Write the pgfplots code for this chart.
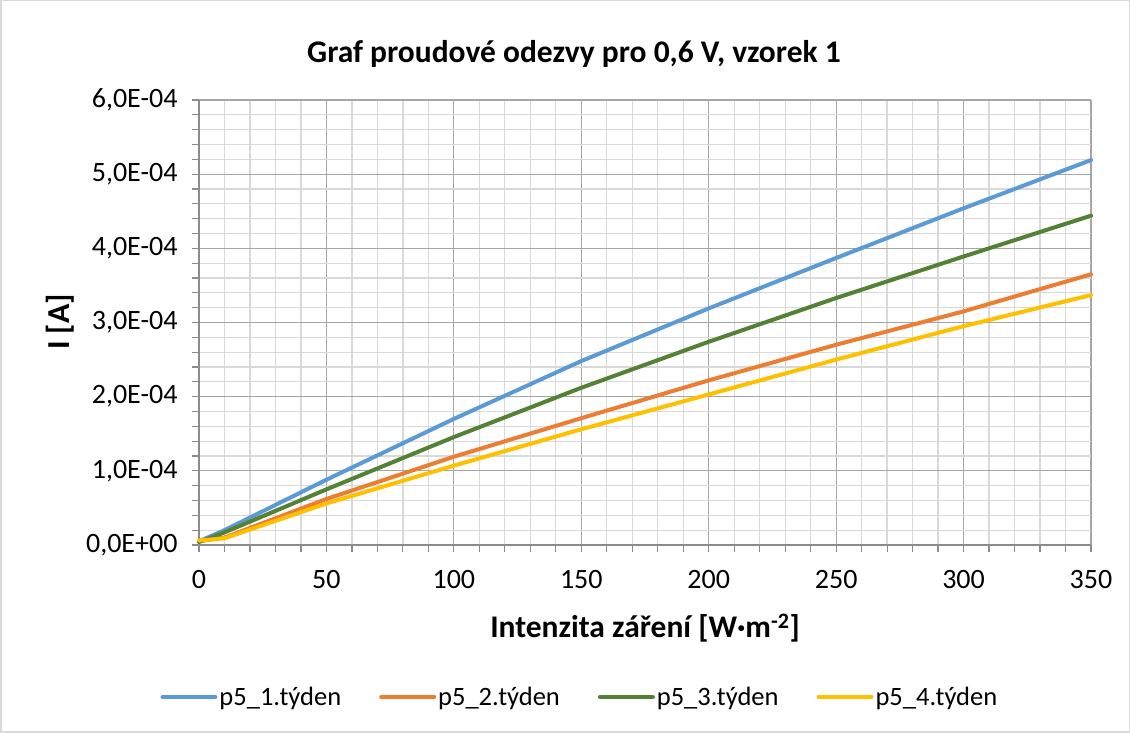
\documentclass[border=0pt]{standalone}
\usepackage{fontspec}
\setmainfont{Carlito}
\usepackage{pgfplots}
\usepackage{pgfplotstable}
\pgfplotsset{compat=1.18}

\definecolor{serA}{HTML}{5B9BD5}
\definecolor{serB}{HTML}{ED7D31}
\definecolor{serC}{HTML}{548235}
\definecolor{serD}{HTML}{FFC000}
\definecolor{majgrid}{HTML}{A6A6A6}
\definecolor{mingrid}{HTML}{D9D9D9}
\definecolor{axline}{HTML}{8C8C8C}

% current response, sample 1, at 0.6 V
\pgfplotstableread{
x    w1       w2       w3       w4
0    0.05e-4  0.05e-4  0.04e-4  0.06e-4
10   0.20e-4  0.10e-4  0.17e-4  0.09e-4
50   0.88e-4  0.62e-4  0.75e-4  0.56e-4
100  1.70e-4  1.19e-4  1.455e-4 1.07e-4
150  2.48e-4  1.71e-4  2.12e-4  1.56e-4
200  3.19e-4  2.22e-4  2.74e-4  2.03e-4
250  3.87e-4  2.70e-4  3.33e-4  2.50e-4
300  4.54e-4  3.15e-4  3.89e-4  2.95e-4
350  5.19e-4  3.65e-4  4.44e-4  3.37e-4
}\datatable

\begin{document}
\begin{tikzpicture}[x=1pt,y=1pt]
% chart area
\fill[white] (0,0) rectangle (1130,733);
\draw[mingrid,line width=1.5pt] (0.75,0.75) rectangle (1129.25,732.25);

\begin{axis}[
  at={(199pt,188pt)}, anchor=south west,
  scale only axis, width=892pt, height=445pt,
  xmin=0, xmax=350, ymin=0, ymax=6e-4,
  xtick={0,50,...,350},
  ytick={0,1e-4,2e-4,3e-4,4e-4,5e-4,6e-4},
  yticklabels={{0,0E+00},{1,0E-04},{2,0E-04},{3,0E-04},{4,0E-04},{5,0E-04},{6,0E-04}},
  scaled y ticks=false,
  minor x tick num=4, minor y tick num=4,
  grid=both,
  major grid style={majgrid, line width=1.2pt},
  minor grid style={mingrid, line width=1.3pt},
  axis lines=left,
  axis line style={-, axline, line width=1.3pt},
  tick align=outside,
  major tick length=7pt, minor tick length=7pt,
  tick style={axline, line width=1.2pt},
  xtick pos=bottom, ytick pos=left,
  tick label style={font=\fontsize{28}{32}\selectfont},
  /pgf/number format/assume math mode=true,
  xticklabel style={yshift=-15pt},
  yticklabel style={xshift=-11pt},
  clip=false,
  legend columns=4,
  legend style={
    at={(0.427,-0.3416)}, anchor=center, draw=none, fill=none,
    font=\fontsize{26.5}{30}\selectfont,
    /tikz/every even column/.append style={column sep=36pt},
  },
  legend image code/.code={\draw[#1,line width=4pt] (0pt,0pt) -- (53pt,0pt);},
  every axis plot/.append style={line width=4pt, line cap=round, line join=round},
]
\addplot[serA] table[x=x,y=w1] {\datatable};
\addlegendentry{p5\_1.týden}
\addplot[serB] table[x=x,y=w2] {\datatable};
\addlegendentry{p5\_2.týden}
\addplot[serC] table[x=x,y=w3] {\datatable};
\addlegendentry{p5\_3.týden}
\addplot[serD] table[x=x,y=w4] {\datatable};
\addlegendentry{p5\_4.týden}
\end{axis}

% titles
\node[font=\fontsize{31.5}{36}\selectfont\bfseries] at (574,679) {Graf proudové odezvy pro 0,6 V, vzorek 1};
\node[font=\fontsize{31.5}{36}\selectfont\bfseries] at (645,105) {Intenzita záření [W·m\textsuperscript{-2}]};
\node[font=\fontsize{32}{36}\selectfont\bfseries, rotate=90] at (60,411) {I [A]};
\end{tikzpicture}
\end{document}
